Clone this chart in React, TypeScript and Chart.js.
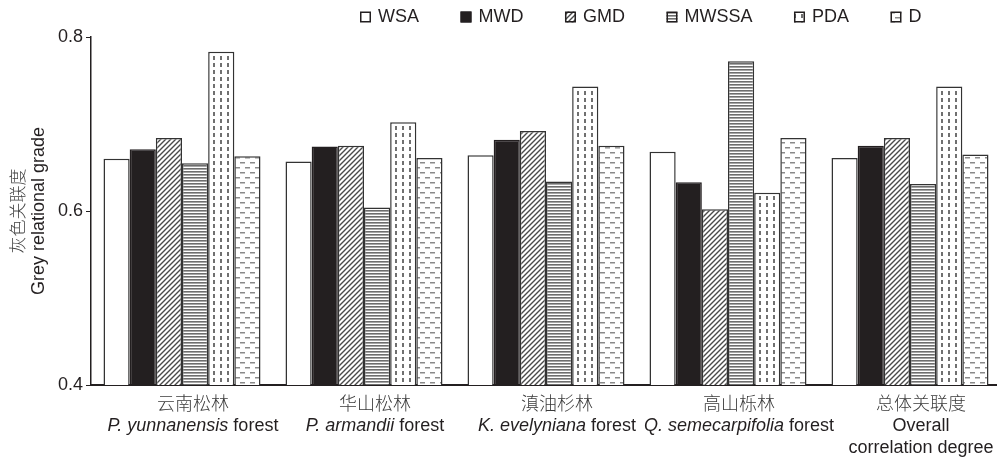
import React, { useEffect, useRef } from "react";
import { Chart, registerables } from "chart.js";

Chart.register(...registerables);

// ---------- data ----------
const categoriesZh = ["云南松林", "华山松林", "滇油杉林", "高山栎林", "总体关联度"];
const categoriesItalic = ["P. yunnanensis", "P. armandii", "K. evelyniana", "Q. semecarpifolia", ""];
const categoriesSuffix = [" forest", " forest", " forest", " forest", "Overall"];
const categoriesExtra = ["", "", "", "", "correlation degree"];

const seriesNames = ["WSA", "MWD", "GMD", "MWSSA", "PDA", "D"];
const wsaValues = [0.660, 0.657, 0.664, 0.668, 0.661];
const mwdValues = [0.671, 0.674, 0.682, 0.633, 0.675];
const gmdValues = [0.684, 0.675, 0.692, 0.602, 0.684];
const mwssaValues = [0.655, 0.604, 0.634, 0.772, 0.631];
const pdaValues = [0.783, 0.702, 0.743, 0.621, 0.743];
const dValues = [0.663, 0.661, 0.675, 0.684, 0.665];

const yMin = 0.4;
const yMax = 0.8;
const yStep = 0.2;

const yTitleZh = "灰色关联度";
const yTitleEn = "Grey relational grade";

// ---------- patterns ----------
function tile(w: number, h: number, draw: (c: CanvasRenderingContext2D) => void): CanvasPattern | string {
  const cv = document.createElement("canvas");
  cv.width = w;
  cv.height = h;
  const c = cv.getContext("2d");
  if (!c) return "#ffffff";
  c.fillStyle = "#ffffff";
  c.fillRect(0, 0, w, h);
  draw(c);
  const p = c.createPattern(cv, "repeat");
  return p || "#ffffff";
}

function makeFills(): (CanvasPattern | string)[] {
  const white = "#ffffff";
  const black = "#231f20";
  const diag = tile(5, 5, (c) => {
    c.strokeStyle = "#4a4a4a";
    c.lineWidth = 1.4;
    c.beginPath();
    c.moveTo(-1, 6);
    c.lineTo(6, -1);
    c.moveTo(-1, 1);
    c.lineTo(1, -1);
    c.moveTo(4, 6);
    c.lineTo(6, 4);
    c.stroke();
  });
  const hlines = tile(4, 3, (c) => {
    c.fillStyle = "#6e6e6e";
    c.fillRect(0, 0, 4, 1);
    c.fillStyle = "#a6a6a6";
    c.fillRect(0, 1, 4, 1);
  });
  const vdash = tile(7, 7, (c) => {
    c.fillStyle = "#707070";
    c.fillRect(3, 0, 2, 4);
  });
  const hdash = tile(10, 10, (c) => {
    c.fillStyle = "#8a8a8a";
    c.fillRect(0, 2, 5, 1.5);
    c.fillRect(5, 7, 5, 1.5);
  });
  return [white, black, diag, hlines, vdash, hdash];
}

const FONT = "'Liberation Sans', Arial, Helvetica, sans-serif";
const CJK = "'Noto Sans CJK SC', sans-serif";
const INK = "#231f20";

export default function App() {
  const ref = useRef<HTMLCanvasElement | null>(null);

  useEffect(() => {
    const canvas = ref.current;
    if (!canvas) return;
    const fills = makeFills();
    const seriesValues = [wsaValues, mwdValues, gmdValues, mwssaValues, pdaValues, dValues];

    const textPlugin = {
      id: "customText",
      afterDraw(chart: any) {
        const ctx: CanvasRenderingContext2D = chart.ctx;
        const xs = chart.scales.x;
        ctx.save();

        // legend
        let lx = 360;
        const ly = 17;
        ctx.font = `18px ${FONT}`;
        ctx.textBaseline = "middle";
        ctx.textAlign = "left";
        seriesNames.forEach((name, i) => {
          ctx.fillStyle = fills[i] as any;
          ctx.fillRect(lx, ly - 5.5, 11, 11);
          ctx.strokeStyle = INK;
          ctx.lineWidth = 1.5;
          ctx.strokeRect(lx + 0.75, ly - 5.5 + 0.75, 9.5, 9.5);
          ctx.fillStyle = INK;
          ctx.fillText(name, lx + 18, ly);
          lx += 18 + ctx.measureText(name).width + 41.5;
        });

        // y-axis titles
        const midY = (chart.chartArea.top + chart.chartArea.bottom) / 2;
        ctx.textAlign = "center";
        ctx.textBaseline = "middle";
        ctx.save();
        ctx.translate(18, midY);
        ctx.rotate(-Math.PI / 2);
        ctx.font = `300 17px ${CJK}`;
        ctx.fillStyle = "#444";
        ctx.fillText(yTitleZh, 0, 0);
        ctx.restore();
        ctx.save();
        ctx.translate(39, midY);
        ctx.rotate(-Math.PI / 2);
        ctx.font = `18px ${FONT}`;
        ctx.fillStyle = INK;
        ctx.fillText(yTitleEn, 0, 0);
        ctx.restore();

        // x labels
        categoriesZh.forEach((zh, i) => {
          const cx = xs.getPixelForValue(i) + 11;
          ctx.textBaseline = "alphabetic";
          ctx.textAlign = "center";
          ctx.font = `300 18px ${CJK}`;
          ctx.fillStyle = "#3a3a3a";
          ctx.fillText(zh, cx, 410);

          const it = categoriesItalic[i];
          const sf = categoriesSuffix[i];
          ctx.font = `italic 18px ${FONT}`;
          const wi = it ? ctx.measureText(it).width : 0;
          ctx.font = `18px ${FONT}`;
          const ws = ctx.measureText(sf).width;
          let sx = cx - (wi + ws) / 2;
          ctx.textAlign = "left";
          ctx.fillStyle = INK;
          if (it) {
            ctx.font = `italic 18px ${FONT}`;
            ctx.fillText(it, sx, 431);
            sx += wi;
          }
          ctx.font = `18px ${FONT}`;
          ctx.fillText(sf, sx, 431);
          const ex = categoriesExtra[i];
          if (ex) {
            ctx.textAlign = "center";
            ctx.fillText(ex, cx, 453);
          }
        });
        ctx.restore();
      },
    };

    const chart = new Chart(canvas, {
      type: "bar",
      data: {
        labels: categoriesZh,
        datasets: seriesNames.map((name, i) => ({
          label: name,
          data: seriesValues[i],
          backgroundColor: fills[i] as any,
          borderColor: i === 1 ? INK : "#333333",
          borderWidth: 1.5,
          barPercentage: 1,
          categoryPercentage: 157 / 182,
        })),
      },
      options: {
        animation: false,
        responsive: false,
        maintainAspectRatio: false,
        layout: { padding: { left: 0, right: 9, top: 37, bottom: 76 } },
        plugins: {
          legend: { display: false },
          tooltip: { enabled: false },
          title: { display: false },
        },
        scales: {
          x: {
            type: "category",
            offset: true,
            grid: { display: false, drawTicks: false },
            border: { display: true, color: INK, width: 2 },
            ticks: { display: false },
            afterFit: (s: any) => {
              s.height = 0;
            },
          },
          y: {
            min: yMin,
            max: yMax,
            ticks: {
              stepSize: yStep,
              color: INK,
              padding: 3,
              font: { size: 18, family: FONT },
              callback: (v: any) => Number(v).toFixed(1),
            },
            grid: {
              display: true,
              drawOnChartArea: false,
              drawTicks: true,
              tickLength: 5,
              color: INK,
              lineWidth: 1,
            },
            border: { display: true, color: INK, width: 1.5 },
            afterFit: (s: any) => {
              s.width = 91;
            },
          },
        },
      },
      plugins: [textPlugin],
    });

    return () => {
      chart.destroy();
    };
  }, []);

  return (
    <div
      style={{
        position: "fixed",
        left: 0,
        top: 0,
        width: 997,
        height: 461,
        overflow: "hidden",
        background: "#ffffff",
      }}
    >
      <canvas ref={ref} width={1010} height={461} style={{ display: "block" }} />
    </div>
  );
}
